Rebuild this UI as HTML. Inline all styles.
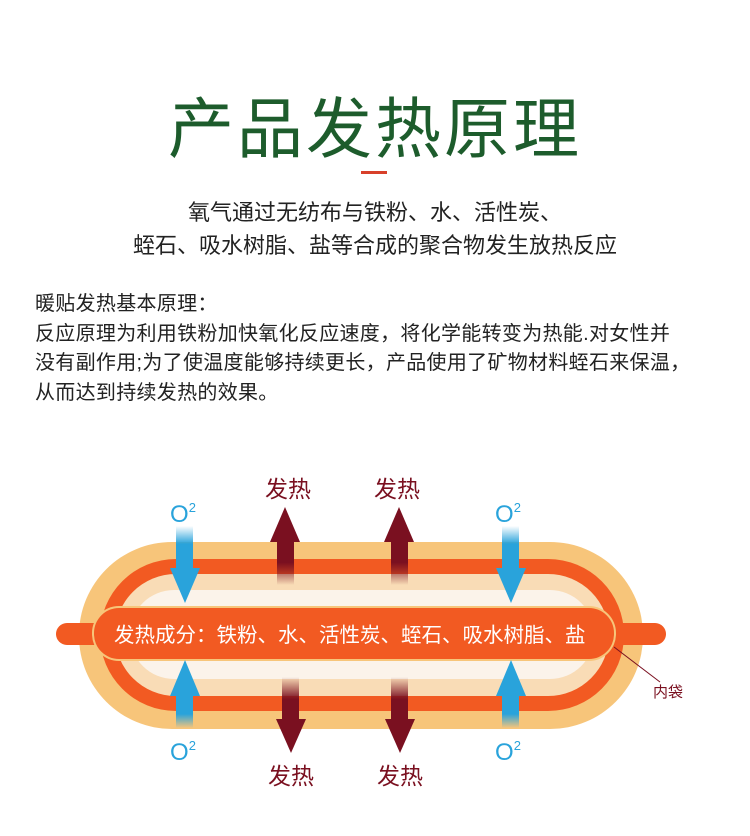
<!DOCTYPE html>
<html><head><meta charset="utf-8"><style>
body{margin:0;width:750px;height:836px;background:#fff;overflow:hidden;font-family:"Liberation Sans","Noto Sans CJK SC",sans-serif;position:relative}
.t{position:absolute;white-space:nowrap}
</style></head><body>
<div class="t" style="left:0;width:750px;text-align:center;top:76px;font-size:66px;color:#1d5c2c;font-weight:normal;letter-spacing:3px">产品发热原理</div>
<div style="position:absolute;left:361px;top:171px;width:26px;height:3px;background:#d8402a"></div>
<div class="t" style="left:0;width:750px;text-align:center;top:195px;font-size:22px;color:#222">氧气通过无纺布与铁粉、水、活性炭、</div>
<div class="t" style="left:0;width:750px;text-align:center;top:228px;font-size:22px;color:#222">蛭石、吸水树脂、盐等合成的聚合物发生放热反应</div>
<div class="t" style="left:35px;top:290px;font-size:20px;color:#222;line-height:29.5px;letter-spacing:0.3px">暖贴发热基本原理：<br>反应原理为利用铁粉加快氧化反应速度，将化学能转变为热能.对女性并<br>没有副作用;为了使温度能够持续更长，产品使用了矿物材料蛭石来保温，<br>从而达到持续发热的效果。</div>
<svg width="750" height="836" style="position:absolute;left:0;top:0">
<defs>
<linearGradient id="bd" x1="0" y1="0" x2="0" y2="1"><stop offset="0" stop-color="#29a3db" stop-opacity="0"/><stop offset="0.4" stop-color="#29a3db"/></linearGradient>
<linearGradient id="bu" x1="0" y1="1" x2="0" y2="0"><stop offset="0" stop-color="#29a3db" stop-opacity="0"/><stop offset="0.4" stop-color="#29a3db"/></linearGradient>
<linearGradient id="ru" x1="0" y1="1" x2="0" y2="0"><stop offset="0" stop-color="#7a1020" stop-opacity="0"/><stop offset="0.5" stop-color="#7a1020"/></linearGradient>
<linearGradient id="rd" x1="0" y1="0" x2="0" y2="1"><stop offset="0" stop-color="#7a1020" stop-opacity="0"/><stop offset="0.5" stop-color="#7a1020"/></linearGradient>
</defs>
<rect x="79" y="542" width="564" height="187" rx="93" fill="#f7c57a"/>
<rect x="100" y="559" width="524" height="152" rx="76" fill="#f25a22"/>
<rect x="115" y="574" width="494" height="122" rx="61" fill="#f9dcb6"/>
<rect x="130" y="590" width="464" height="89" rx="44" fill="#fbf3ea"/>
<rect x="56" y="623" width="610" height="22" rx="11" fill="#f25a22"/>
<rect x="92" y="606" width="524" height="55" rx="27" fill="#f7c57a"/>
<rect x="94" y="608" width="520" height="51" rx="25" fill="#f25a22"/>
<text x="114" y="642" font-size="20.5" fill="#fff" font-family="Liberation Sans,Noto Sans CJK SC,sans-serif">发热成分：铁粉、水、活性炭、蛭石、吸水树脂、盐</text>
<line x1="614" y1="647" x2="660" y2="682" stroke="#7a1020" stroke-width="1"/>
<text x="653" y="697" font-size="15" fill="#7a1020" font-family="Liberation Sans,Noto Sans CJK SC,sans-serif">内袋</text>
<g fill="url(#bd)"><rect x="176" y="526" width="17" height="45"/><rect x="502" y="526" width="17" height="45"/></g>
<g fill="#29a3db"><polygon points="170,568 200,568 185,603"/><polygon points="496,568 526,568 511,603"/></g>
<g fill="url(#bu)"><rect x="176" y="693" width="17" height="35"/><rect x="502" y="693" width="17" height="35"/></g>
<g fill="#29a3db"><polygon points="170,696 200,696 185,660"/><polygon points="496,696 526,696 511,660"/></g>
<g fill="url(#ru)"><rect x="277" y="540" width="17" height="45"/><rect x="391" y="540" width="17" height="45"/></g>
<g fill="#7a1020"><polygon points="270,542 300,542 285,507"/><polygon points="384,542 414,542 399,507"/></g>
<g fill="url(#rd)"><rect x="282" y="677" width="17" height="45"/><rect x="391" y="677" width="17" height="45"/></g>
<g fill="#7a1020"><polygon points="276,719 306,719 291,753"/><polygon points="385,719 415,719 400,753"/></g>
<g font-family="Liberation Sans,Noto Sans CJK SC,sans-serif" fill="#7a1020" font-size="23" text-anchor="middle">
<text x="288" y="497">发热</text><text x="397" y="497">发热</text>
<text x="291" y="784">发热</text><text x="400" y="784">发热</text></g>
<g font-family="Liberation Sans,sans-serif" fill="#29a3db" text-anchor="middle">
<text x="183" y="522" font-size="24">O<tspan font-size="13" dy="-10">2</tspan></text>
<text x="508" y="522" font-size="24">O<tspan font-size="13" dy="-10">2</tspan></text>
<text x="183" y="760" font-size="24">O<tspan font-size="13" dy="-10">2</tspan></text>
<text x="508" y="760" font-size="24">O<tspan font-size="13" dy="-10">2</tspan></text>
</g>
</svg>
</body></html>
